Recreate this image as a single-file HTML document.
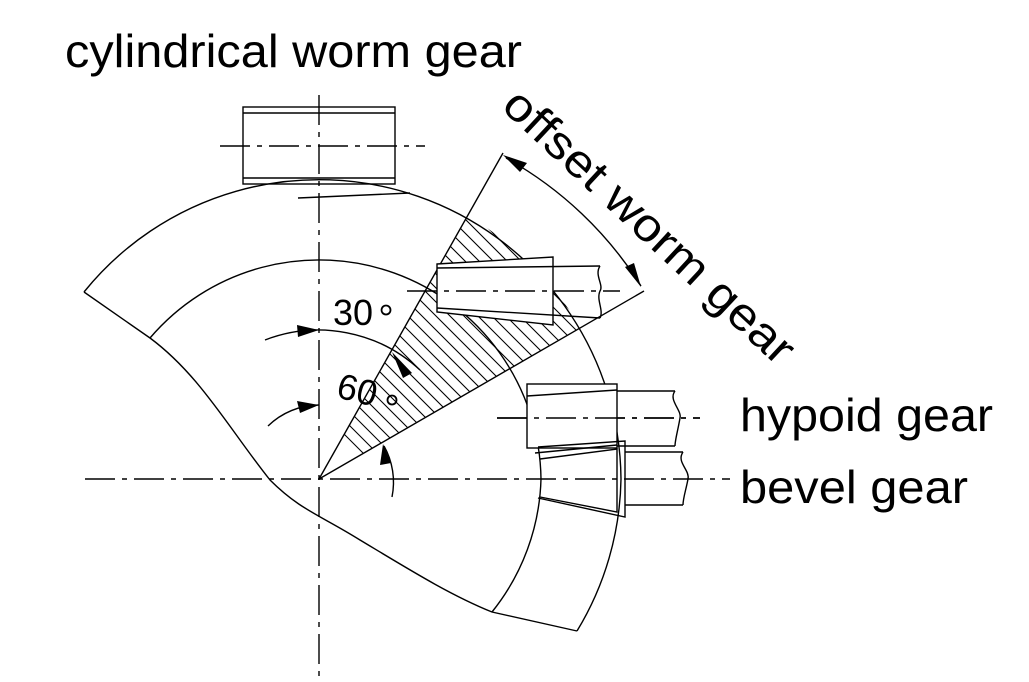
<!DOCTYPE html>
<html><head><style>body{margin:0;background:#fff}svg{display:block}</style></head><body>
<svg width="1029" height="682" viewBox="0 0 1029 682" xmlns="http://www.w3.org/2000/svg">
<defs>
<clipPath id="wedge"><path d="M319,479 L503,153 L644,291 Z"/></clipPath>
<clipPath id="outer"><circle cx="319" cy="479" r="302"/></clipPath>
</defs>
<g fill="none" stroke="#000" stroke-width="1.4">
<line x1="319" y1="95" x2="319" y2="682" stroke-dasharray="30,7,5,7"/>
<line x1="85" y1="479" x2="730" y2="479" stroke-dasharray="30,7,5,7"/>
<line x1="220" y1="146" x2="425" y2="146" stroke-dasharray="30,7,5,7"/>
<line x1="497" y1="418" x2="700" y2="418" stroke-dasharray="30,7,5,7"/>
<path d="M84,292 A302,302 0 0 1 621,479 A302,302 0 0 1 577,631"/>
<path d="M150,338 A222,222 0 0 1 541,479 A222,222 0 0 1 492,612"/>
<path d="M84,292 L150,338 C200,375 230,430 270,480 C300,510 320,515 360,540 C410,570 450,595 492,612 L577,631"/>
<rect x="243" y="107" width="152" height="77"/>
<line x1="243" y1="113" x2="395" y2="113"/>
<line x1="243" y1="178" x2="395" y2="178"/>
<line x1="298" y1="198" x2="410" y2="193"/>
<g clip-path="url(#outer)"><g clip-path="url(#wedge)" stroke-width="1.1">
<path d="
M200,150 L600,550 M214,150 L614,550 M228,150 L628,550 M242,150 L642,550 M256,150 L656,550 M270,150 L670,550 M284,150 L684,550 M298,150 L698,550 M312,150 L712,550 M326,150 L726,550 M340,150 L740,550 M354,150 L754,550 M368,150 L768,550 M382,150 L782,550 M396,150 L796,550 M410,150 L810,550 M424,150 L824,550 M438,150 L838,550 M452,150 L852,550 M466,150 L866,550 M480,150 L880,550 M494,150 L894,550 M186,150 L586,550 M172,150 L572,550 M158,150 L558,550 M144,150 L544,550 M130,150 L530,550 M116,150 L516,550 M102,150 L502,550 M88,150 L488,550 M74,150 L474,550 M60,150 L460,550"/>
</g></g>
<line x1="319" y1="479" x2="503" y2="153"/>
<line x1="319" y1="479" x2="644" y2="291"/>
<path d="M437,264 L553,257 L553,325 L437,312 Z" fill="#fff"/>
<line x1="437" y1="268" x2="600" y2="266"/>
<line x1="437" y1="308" x2="600" y2="318"/>
<line x1="407" y1="291" x2="620" y2="291" stroke-dasharray="30,7,5,7"/>
<path d="M600,266 C594,275 604,285 600,291 C596,300 604,310 600,318"/>
<path d="M506,158 A375,375 0 0 1 641,286"/>
<rect x="527" y="384" width="90" height="64" fill="#fff"/>
<line x1="527" y1="396" x2="617" y2="390"/>
<line x1="617" y1="391" x2="675" y2="391"/>
<line x1="617" y1="446" x2="675" y2="446"/>
<path d="M675,391 C668,400 682,410 680,418 C678,430 675,440 675,446"/>
<line x1="497" y1="418" x2="700" y2="418" stroke-dasharray="30,7,5,7"/>
<path d="M538,447 L625,441 L625,517 L538,498"/>
<path d="M540,459 L617,449 L617,512 L540,497"/>
<line x1="535" y1="453" x2="617" y2="445"/>
<line x1="625" y1="452" x2="683" y2="452"/>
<line x1="625" y1="505" x2="683" y2="505"/>
<path d="M683,452 C676,462 690,470 688,479 C686,490 683,498 683,505"/>
<path d="M265,340 A149,149 0 0 1 420,370"/>
<path d="M268,426 A74,74 0 0 1 319,405"/>
<path d="M384,446 A74,74 0 0 1 392,497"/>
</g>
<g fill="#000">
<polygon points="319,330 297,325 298,337"/>
<polygon points="319,405 297,401 300,413"/>
<polygon points="392,352 412,373 403,378"/>
<polygon points="383,444 380,465 391,463"/>
<polygon points="503,155 527,163 520,172"/>
<polygon points="641,287 625,267 634,263"/>
</g>
<g font-family="Liberation Sans, Arial, sans-serif" fill="#000">
<text x="65" y="67" font-size="46" textLength="457" lengthAdjust="spacingAndGlyphs">cylindrical worm gear</text>
<text x="740" y="431" font-size="46" textLength="253" lengthAdjust="spacingAndGlyphs">hypoid gear</text>
<text x="740" y="503" font-size="46" textLength="228" lengthAdjust="spacingAndGlyphs">bevel gear</text>
<text x="333" y="325" font-size="36">30</text><circle cx="386" cy="310" r="4.5" fill="none" stroke="#000" stroke-width="1.8"/>
<text x="335" y="397" font-size="36" transform="rotate(14 335 397)">60</text><circle cx="392" cy="400" r="4.5" fill="none" stroke="#000" stroke-width="1.8"/>
<text x="0" y="0" font-size="46" textLength="380" lengthAdjust="spacingAndGlyphs" transform="translate(500,108) rotate(43)">offset worm gear</text>
</g>
</svg>
</body></html>
